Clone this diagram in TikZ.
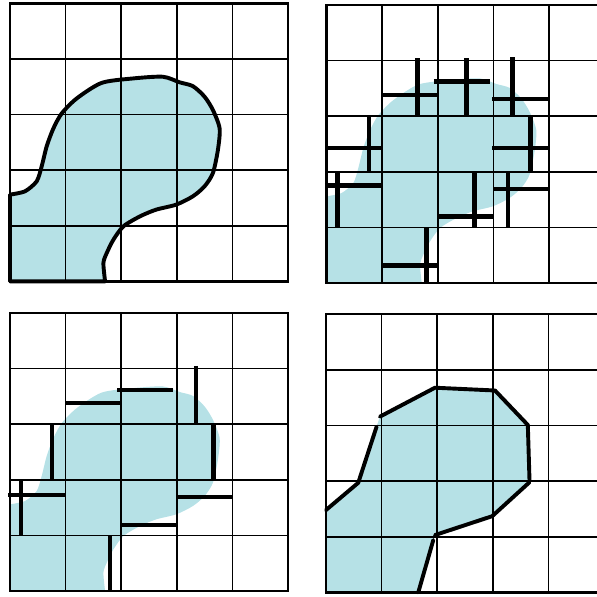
\documentclass[tikz,border=0pt]{standalone}
\definecolor{blobc}{RGB}{182,225,230}
\tikzset{
  gridline/.style={line width=0.8pt},
  border/.style={line width=1.2pt},
  outline/.style={line width=2pt, line join=round, line cap=round},
  seg/.style={line width=2.4pt},
  segthin/.style={line width=2.1pt},
  blob/.style={insert path={(0,5) -- plot[smooth,tension=0.45] coordinates {(0,3.44) (0.27,3.38) (0.48,3.20) (0.57,2.93) (0.66,2.57) (0.78,2.25) (0.93,1.98) (1.20,1.71) (1.65,1.43) (2.22,1.35) (2.75,1.32) (3.05,1.42) (3.29,1.49) (3.50,1.68) (3.65,1.92) (3.77,2.25) (3.74,2.63) (3.65,3.05) (3.50,3.29) (3.29,3.47) (2.99,3.62) (2.63,3.71) (2.34,3.83) (2.04,4.01) (1.86,4.25) (1.74,4.49) (1.68,4.67) (1.71,5)} -- cycle}}
}
\begin{document}
\begin{tikzpicture}[x=1cm,y=-1cm]
\useasboundingbox (0,0) rectangle (10.737,10.737);
\clip (0,0) rectangle (10.737,10.737);
% panel 1
\begin{scope}[shift={(0.18,0.06)}]
  \fill[blobc,blob];
  \draw[gridline] (0,0) grid (5,5);
  \draw[border] (0,0) rectangle (5,5);
  \draw[outline] plot[smooth,tension=0.45] coordinates {(0,3.44) (0.27,3.38) (0.48,3.20) (0.57,2.93) (0.66,2.57) (0.78,2.25) (0.93,1.98) (1.20,1.71) (1.65,1.43) (2.22,1.35) (2.75,1.32) (3.05,1.42) (3.29,1.49) (3.50,1.68) (3.65,1.92) (3.77,2.25) (3.74,2.63) (3.65,3.05) (3.50,3.29) (3.29,3.47) (2.99,3.62) (2.63,3.71) (2.34,3.83) (2.04,4.01) (1.86,4.25) (1.74,4.49) (1.68,4.67) (1.71,5)} -- (0,5) -- cycle;
\end{scope}
% panel 2
\begin{scope}[shift={(5.875,0.09)}]
  \fill[blobc,blob];
  \draw[gridline] (0,0) grid (5,5);
  \draw[border] (0,0) rectangle (5,5);
  \foreach \a/\b/\y in {1/2/1.62, 1.93/2.93/1.37, 2.98/4/1.69, 0/1/2.57, 2.98/4/2.57, -0.03/1/3.25, 2/3/3.80, 3/4/3.31, 1/2/4.68}
    \draw[seg] (\a,\y) -- (\b,\y);
  \foreach \x/\a/\b in {1.63/0.96/2, 2.51/0.96/2, 3.34/0.94/2, 0.76/2/3, 3.66/2/3, 0.19/3/4, 2.66/3/4, 3.26/3/4, 1.80/4/5}
    \draw[seg] (\x,\a) -- (\x,\b);
\end{scope}
% panel 3
\begin{scope}[shift={(0.18,5.63)}]
  \fill[blobc,blob];
  \draw[gridline] (0,0) grid (5,5);
  \draw[border] (0,0) rectangle (5,5);
  \foreach \a/\b/\y in {1/2/1.62, 1.93/2.93/1.38, -0.03/1/3.28, 3/4/3.31, 2/3/3.81}
    \draw[segthin] (\a,\y) -- (\b,\y);
  \foreach \x/\a/\b in {3.34/0.95/1.98, 0.76/2/3, 3.66/2/3, 0.19/3/4, 1.80/4/5}
    \draw[segthin] (\x,\a) -- (\x,\b);
\end{scope}
% panel 4
\begin{scope}[shift={(5.863,5.653)}]
  \fill[blobc] (0,5) -- (0,3.52) -- (0.58,3.03) -- (0.91,2.02) -- (0.97,1.84) -- (1.96,1.32) -- (3.04,1.37) -- (3.63,1.99) -- (3.66,2.98) -- (2.99,3.63) -- (1.96,3.97) -- (1.66,5) -- cycle;
  \draw[gridline] (0,0) grid (5,5);
  \draw[border] (0,0) rectangle (5,5);
  \draw[outline] (0,3.52) -- (0.58,3.03) -- (0.91,2.02);
  \draw[outline] (0.97,1.84) -- (1.96,1.32) -- (3.04,1.37) -- (3.63,1.99) -- (3.66,2.98);
  \draw[outline] (3.66,3.02) -- (2.99,3.63) -- (1.96,3.97);
  \draw[outline] (1.93,4.06) -- (1.66,5);
\end{scope}
\end{tikzpicture}
\end{document}
